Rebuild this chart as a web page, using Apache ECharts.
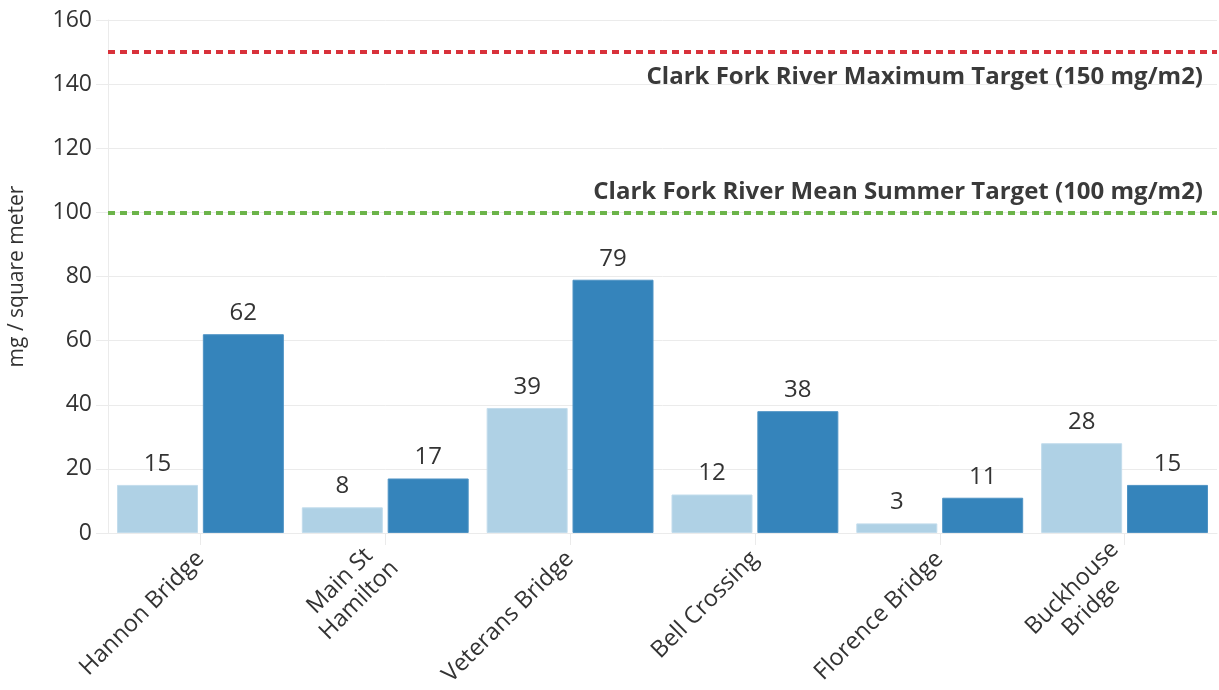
<!DOCTYPE html>
<html>
<head>
<meta charset="utf-8">
<script src="https://cdn.jsdelivr.net/npm/echarts@6/dist/echarts.min.js"></script>
<style>
  html, body { margin: 0; padding: 0; background: #fff; }
  #chart { width: 1219px; height: 690px; }
</style>
</head>
<body>
<div id="chart"></div>
<script>
// Periphyton chlorophyll a at Clark Fork River sites (mg / square meter)
const sites = ['Hannon Bridge', 'Main St\nHamilton', 'Veterans Bridge', 'Bell Crossing', 'Florence Bridge', 'Buckhouse\nBridge'];
const firstVisit = [15, 8, 39, 12, 3, 28];
const secondVisit = [62, 17, 79, 38, 11, 15];
const yTicks = [0, 20, 40, 60, 80, 100, 120, 140, 160];
const maxTarget = 150;
const meanTarget = 100;
const maxTargetLabel = 'Clark Fork River Maximum Target (150 mg/m2)';
const meanTargetLabel = 'Clark Fork River Mean Summer Target (100 mg/m2)';

const FONT = '"Open Sans", "Noto Sans", sans-serif';
const TEXT = '#333333';
const GRID = '#ebebeb';
const X_LABEL_SIZE = 23.5;

// Each category label is a small text block whose lines are centred on each other;
// measure the widest line so every line can be centred inside the same box.
const measureCtx = document.createElement('canvas').getContext('2d');
measureCtx.font = X_LABEL_SIZE + 'px ' + FONT;
const labelRich = {};
sites.forEach(function (s, i) {
  const w = Math.max.apply(null, s.split('\n').map(function (line) {
    return measureCtx.measureText(line).width;
  }));
  labelRich['c' + i] = { width: Math.ceil(w), align: 'center', fontSize: X_LABEL_SIZE, fontFamily: FONT, color: TEXT, lineHeight: 27 };
});

const chart = echarts.init(document.getElementById('chart'), null, { renderer: 'canvas' });

const valueLabel = {
  show: true,
  position: 'top',
  distance: 9,
  color: TEXT,
  fontFamily: FONT,
  fontSize: 24
};

const targetLabel = {
  show: true,
  color: '#3a3a3a',
  fontFamily: FONT,
  fontWeight: 'bold',
  fontSize: 24
};

chart.setOption({
  animation: false,
  backgroundColor: '#ffffff',
  grid: { left: 108, right: 2, top: 20, bottom: 157, containLabel: false, outerBoundsMode: 'none' },
  xAxis: {
    type: 'category',
    data: sites,
    axisLine: { show: true, lineStyle: { color: GRID, width: 1 } },
    axisTick: { show: true, alignWithLabel: true, length: 12, lineStyle: { color: GRID } },
    axisLabel: {
      rotate: 45,
      margin: 22,
      color: TEXT,
      fontFamily: FONT,
      fontSize: X_LABEL_SIZE,
      lineHeight: 27,
      rich: labelRich,
      formatter: function (value, index) {
        return value.split('\n').map(function (line) {
          return '{c' + index + '|' + line + '}';
        }).join('\n');
      }
    },
    splitLine: { show: false }
  },
  yAxis: {
    type: 'value',
    min: yTicks[0],
    max: yTicks[yTicks.length - 1],
    interval: yTicks[1] - yTicks[0],
    name: 'mg / square meter',
    nameLocation: 'middle',
    nameGap: 80,
    nameTextStyle: { color: TEXT, fontFamily: FONT, fontSize: 21 },
    axisLine: { show: true, lineStyle: { color: GRID, width: 1 } },
    axisTick: { show: true, length: 12, lineStyle: { color: GRID } },
    axisLabel: { margin: 16, color: TEXT, fontFamily: FONT, fontSize: 23 },
    splitLine: { show: true, lineStyle: { color: GRID, width: 1 } }
  },
  series: [
    {
      name: 'Visit 1',
      type: 'bar',
      data: firstVisit,
      barWidth: 81,
      barGap: '6%',
      itemStyle: { color: '#afd1e5', borderColor: '#c2dcec', borderWidth: 1 },
      label: valueLabel
    },
    {
      name: 'Visit 2',
      type: 'bar',
      data: secondVisit,
      barWidth: 81,
      barGap: '6%',
      itemStyle: { color: '#3584bb', borderColor: '#4f93c4', borderWidth: 1 },
      label: valueLabel,
      markLine: {
        silent: true,
        symbol: 'none',
        data: [
          {
            yAxis: maxTarget,
            lineStyle: { color: '#d8313a', width: 4, type: [7, 5], cap: 'butt' },
            label: Object.assign({}, targetLabel, { position: 'insideEndBottom', distance: [14, 13], formatter: maxTargetLabel })
          },
          {
            yAxis: meanTarget,
            lineStyle: { color: '#6cb44a', width: 4, type: [7, 5], cap: 'butt' },
            label: Object.assign({}, targetLabel, { position: 'insideEndTop', distance: [14, 8], formatter: meanTargetLabel })
          }
        ]
      }
    }
  ]
});
</script>
</body>
</html>
